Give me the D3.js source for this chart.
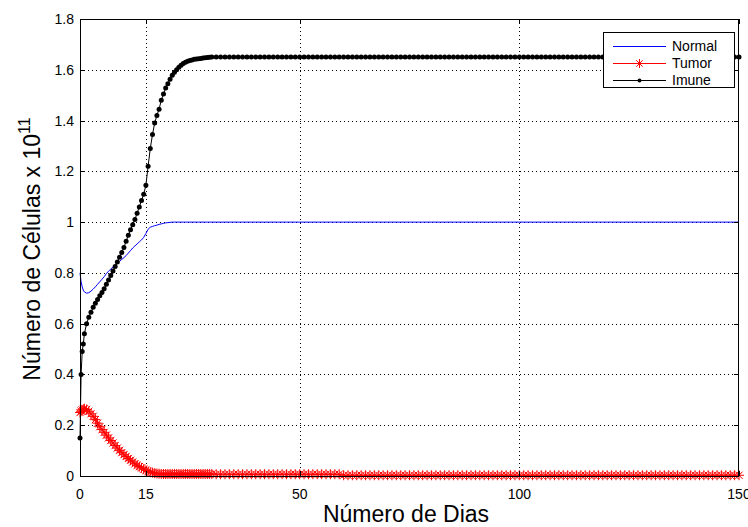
<!DOCTYPE html>
<html><head><meta charset="utf-8">
<script src="https://cdn.jsdelivr.net/npm/d3@7/dist/d3.min.js"></script>
<style>body{margin:0;background:#fff}svg{display:block}text{font-family:"Liberation Sans",Arial,sans-serif}</style>
</head><body>
<svg id="chart" width="748" height="527"></svg>
<script>
// ---- data ----
const days = [0,0.25,0.5,0.75,1,1.5,2,2.5,3,3.5,4,4.5,5,5.5,6,6.5,7,7.5,8,8.5,9,9.5,10,10.5,11,11.5,12,12.5,13,13.5,14,14.5,15,15.5,16,16.5,17,17.5,18,18.5,19,19.5,20,20.5,21,21.5,22,22.5,23,23.5,24,24.5,25,25.5,26,26.5,27,27.5,28,28.5,29,29.5,30,
31,32,33,34,35,36,37,38,39,40,
41,42,43,44,45,46,47,48,49,50,
51,52,53,54,55,56,57,58,59,60,
61,62,63,64,65,66,67,68,69,70,
71,72,73,74,75,76,77,78,79,80,
81,82,83,84,85,86,87,88,89,90,
91,92,93,94,95,96,97,98,99,100,
101,102,103,104,105,106,107,108,109,110,
111,112,113,114,115,116,117,118,119,120,
121,122,123,124,125,126,127,128,129,130,
131,132,133,134,135,136,137,138,139,140,
141,142,143,144,145,146,147,148,149,150];

const normal = [0.80,0.765,0.745,0.732,0.725,0.72,0.722,0.728,0.736,0.745,
0.755,0.765,0.775,0.785,0.797,0.807,0.815,0.823,0.83,0.838,
0.845,0.853,0.86,0.868,0.878,0.888,0.898,0.906,0.914,0.922,
0.93,0.94,0.955,0.972,0.98,0.983,0.986,0.988,0.991,0.993,
0.995,0.997,0.998,0.999,1,1,1,1,1,1,
1,1,1,1,1,1,1,1,1,1,
1,1,1,
1,1,1,1,1,1,1,1,1,1,
1,1,1,1,1,1,1,1,1,1,
1,1,1,1,1,1,1,1,1,1,
1,1,1,1,1,1,1,1,1,1,
1,1,1,1,1,1,1,1,1,1,
1,1,1,1,1,1,1,1,1,1,
1,1,1,1,1,1,1,1,1,1,
1,1,1,1,1,1,1,1,1,1,
1,1,1,1,1,1,1,1,1,1,
1,1,1,1,1,1,1,1,1,1,
1,1,1,1,1,1,1,1,1,1,
1,1,1,1,1,1,1,1,1,1];

const tumor = [0.25,0.255,0.26,0.263,0.265,0.262,0.255,0.245,0.235,0.222,
0.208,0.194,0.183,0.172,0.161,0.15,0.14,0.13,0.12,0.11,
0.101,0.092,0.084,0.077,0.069,0.062,0.055,0.048,0.042,0.037,
0.032,0.027,0.022,0.018,0.015,0.013,0.011,0.01,0.009,0.008,
0.008,0.008,0.008,0.008,0.008,0.008,0.008,0.008,0.008,0.008,
0.008,0.008,0.008,0.008,0.008,0.008,0.008,0.008,0.008,0.008,
0.008,0.008,0.008,
0.007,0.007,0.007,0.007,0.007,0.007,0.007,0.007,0.007,0.007,
0.007,0.007,0.007,0.007,0.007,0.007,0.007,0.007,0.007,0.007,
0.007,0.007,0.007,0.007,0.007,0.007,0.007,0.007,0.007,
0.003,0.003,0.003,0.003,0.003,0.003,0.003,0.003,0.003,0.003,0.003,
0.003,0.003,0.003,0.003,0.003,0.003,0.003,0.003,0.003,0.003,
0.003,0.003,0.003,0.003,0.003,0.003,0.003,0.003,0.003,0.003,
0.003,0.003,0.003,0.003,0.003,0.003,0.003,0.003,0.003,0.003,
0.003,0.003,0.003,0.003,0.003,0.003,0.003,0.003,0.003,0.003,
0.003,0.003,0.003,0.003,0.003,0.003,0.003,0.003,0.003,0.003,
0.003,0.003,0.003,0.003,0.003,0.003,0.003,0.003,0.003,0.003,
0.003,0.003,0.003,0.003,0.003,0.003,0.003,0.003,0.003,0.003,
0.003,0.003,0.003,0.003,0.003,0.003,0.003,0.003,0.003,0.003];

const imune = [0.15,0.40,0.49,0.52,0.56,0.60,0.625,0.645,0.665,0.68,
0.695,0.71,0.723,0.738,0.755,0.772,0.79,0.807,0.825,0.843,
0.862,0.88,0.90,0.925,0.948,0.97,0.99,1.01,1.035,1.06,
1.085,1.11,1.145,1.22,1.29,1.345,1.39,1.42,1.445,1.48,
1.505,1.528,1.545,1.563,1.578,1.59,1.60,1.61,1.618,1.625,
1.63,1.634,1.637,1.639,1.641,1.642,1.643,1.644,1.646,1.647,
1.648,1.649,1.65,
1.65,1.65,1.65,1.65,1.65,1.65,1.65,1.65,1.65,1.65,
1.65,1.65,1.65,1.65,1.65,1.65,1.65,1.65,1.65,1.65,
1.65,1.65,1.65,1.65,1.65,1.65,1.65,1.65,1.65,1.65,
1.65,1.65,1.65,1.65,1.65,1.65,1.65,1.65,1.65,1.65,
1.65,1.65,1.65,1.65,1.65,1.65,1.65,1.65,1.65,1.65,
1.65,1.65,1.65,1.65,1.65,1.65,1.65,1.65,1.65,1.65,
1.65,1.65,1.65,1.65,1.65,1.65,1.65,1.65,1.65,1.65,
1.65,1.65,1.65,1.65,1.65,1.65,1.65,1.65,1.65,1.65,
1.65,1.65,1.65,1.65,1.65,1.65,1.65,1.65,1.65,1.65,
1.65,1.65,1.65,1.65,1.65,1.65,1.65,1.65,1.65,1.65,
1.65,1.65,1.65,1.65,1.65,1.65,1.65,1.65,1.65,1.65,
1.65,1.65,1.65,1.65,1.65,1.65,1.65,1.65,1.65,1.65];

const xTicks = [0,15,50,100,150];
const yTicks = [0,0.2,0.4,0.6,0.8,1,1.2,1.4,1.6,1.8];
const seriesNames = ["Normal","Tumor","Imune"];
const seriesColors = ["#0000ff","#ff0000","#000000"];
const xLabel = "Número de Dias";
const yLabel = "Número de Células x 10";
const yLabelSup = "11";

// ---- layout ----
const L = 80, R = 739, T = 19, B = 476;
const svg = d3.select("#chart");
const x = d3.scaleLinear().domain([0,150]).range([L,R]);
const y = d3.scaleLinear().domain([0,1.8]).range([B,T]);
const n = Math.min(days.length, normal.length, tumor.length, imune.length);

// grid
const grid = svg.append("g").attr("stroke","#000").attr("stroke-width",1).attr("stroke-dasharray","1,3").attr("shape-rendering","crispEdges");
xTicks.filter(v=>v>0&&v<150).forEach(v=>{
  grid.append("line").attr("x1",Math.round(x(v))+0.5).attr("x2",Math.round(x(v))+0.5).attr("y1",B).attr("y2",T);
});
yTicks.filter(v=>v>0&&v<1.8).forEach(v=>{
  grid.append("line").attr("y1",Math.round(y(v))+0.5).attr("y2",Math.round(y(v))+0.5).attr("x1",L).attr("x2",R);
});

const pts = vals => days.slice(0,n).map((d,i)=>[d,vals[i]]);
const line = d3.line().x(d=>x(d[0])).y(d=>y(d[1]));

function asterisk(g, cx, cy, s){
  const h = s/2, dd = h*0.72;
  g.append("path").attr("d",`M${cx-h},${cy}H${cx+h}M${cx},${cy-h}V${cy+h}M${cx-dd},${cy-dd}L${cx+dd},${cy+dd}M${cx-dd},${cy+dd}L${cx+dd},${cy-dd}`);
}

// Normal
svg.append("path").datum(pts(normal)).attr("d",line).attr("fill","none").attr("stroke",seriesColors[0]).attr("stroke-width",1);

// Tumor with asterisks
svg.append("path").datum(pts(tumor)).attr("d",line).attr("fill","none").attr("stroke",seriesColors[1]).attr("stroke-width",1);
const tg = svg.append("g").attr("stroke",seriesColors[1]).attr("stroke-width",1).attr("fill","none");
pts(tumor).forEach(p=>asterisk(tg, x(p[0]), y(p[1]), 10));

// Imune with dots
svg.append("path").datum(pts(imune)).attr("d",line).attr("fill","none").attr("stroke",seriesColors[2]).attr("stroke-width",1);
svg.append("g").selectAll("circle").data(pts(imune)).join("circle")
  .attr("cx",d=>x(d[0])).attr("cy",d=>y(d[1])).attr("r",2.5).attr("fill",seriesColors[2]);

// axes box & ticks
const ax = svg.append("g").attr("stroke","#000").attr("stroke-width",1).attr("shape-rendering","crispEdges");
ax.append("rect").attr("x",L+0.5).attr("y",T+0.5).attr("width",R-L-1).attr("height",B-T).attr("fill","none");
const tl = 5;
xTicks.forEach(v=>{
  const px = Math.round(x(v))+0.5;
  ax.append("line").attr("x1",px).attr("x2",px).attr("y1",B).attr("y2",B-tl);
  ax.append("line").attr("x1",px).attr("x2",px).attr("y1",T).attr("y2",T+tl);
});
yTicks.forEach(v=>{
  const py = Math.round(y(v))+0.5;
  ax.append("line").attr("x1",L).attr("x2",L+tl).attr("y1",py).attr("y2",py);
  ax.append("line").attr("x1",R).attr("x2",R-tl).attr("y1",py).attr("y2",py);
});

// tick labels
svg.append("g").selectAll("text").data(xTicks).join("text")
  .attr("x",d=>x(d)).attr("y",499).attr("text-anchor","middle").attr("font-size",14).attr("fill","#000").text(d=>d);
svg.append("g").selectAll("text").data(yTicks).join("text")
  .attr("x",74).attr("y",d=>y(d)+5).attr("text-anchor","end").attr("font-size",14).attr("fill","#000").text(d=>d3.format("~g")(d));

// axis labels
svg.append("text").attr("x",406).attr("y",522).attr("text-anchor","middle").attr("font-size",23).attr("fill","#000").text(xLabel);
const yl = svg.append("text").attr("transform","translate(40,249) rotate(-90)").attr("text-anchor","middle").attr("font-size",23).attr("fill","#000");
yl.append("tspan").text(yLabel);
yl.append("tspan").attr("dy",-10).attr("font-size",16).text(yLabelSup);

// legend
const lg = svg.append("g");
lg.append("rect").attr("x",603.5).attr("y",32.5).attr("width",131).attr("height",55).attr("fill","#fff").attr("stroke","#000").attr("shape-rendering","crispEdges");
const ly = [46,63,80];
seriesNames.forEach((s,i)=>{
  lg.append("line").attr("x1",613).attr("x2",666).attr("y1",ly[i]+0.5).attr("y2",ly[i]+0.5).attr("stroke",seriesColors[i]).attr("stroke-width",1);
  if(i===1){ const g=lg.append("g").attr("stroke",seriesColors[1]).attr("fill","none"); asterisk(g,639.5,ly[i]+0.5,9); }
  if(i===2){ lg.append("circle").attr("cx",639.5).attr("cy",ly[i]+0.5).attr("r",2).attr("fill","#000"); }
  lg.append("text").attr("x",672).attr("y",ly[i]+5).attr("font-size",14).attr("fill","#000").text(s);
});
</script>
</body></html>
